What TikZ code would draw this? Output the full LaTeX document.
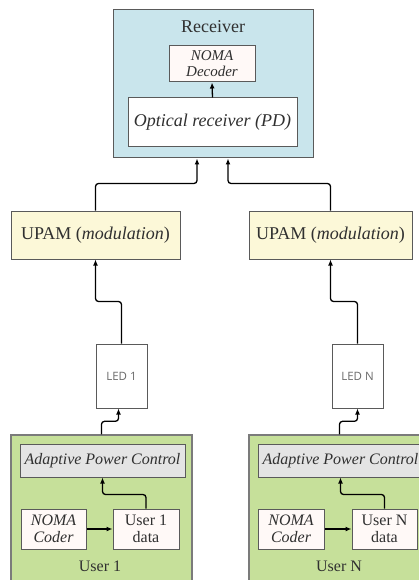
\documentclass[tikz,border=0pt]{standalone}
\usepackage{fontspec}
\setmainfont{Liberation Serif}
\newfontfamily\ledfont{Open Sans}
\usetikzlibrary{arrows.meta,calc}
\definecolor{rxblue}{HTML}{C9E5EC}
\definecolor{decfill}{HTML}{FFF9F7}
\definecolor{upamfill}{HTML}{FCF8D8}
\definecolor{userfill}{HTML}{C6E09A}
\definecolor{apcfill}{HTML}{E4E4E4}
\definecolor{boxline}{HTML}{5A5A5A}
\definecolor{txt}{HTML}{303030}
\definecolor{ledtxt}{HTML}{6A6A6A}
\begin{document}
\begin{tikzpicture}[x=1pt,y=-1pt,
  box/.style={draw=boxline, line width=1pt, inner sep=0pt, align=center, text=txt},
  bigtext/.style={font=\fontsize{18}{20}\selectfont},
  midtext/.style={font=\fontsize{16}{17}\selectfont},
  ledbox/.style={box, fill=white, minimum width=51pt, minimum height=64pt,
    text=ledtxt, font=\ledfont\fontsize{11.5}{13}\selectfont},
  userbox/.style={box, draw=boxline!80, line width=1.4pt, fill=userfill,
    minimum width=181pt, minimum height=165pt},
  conn/.style={line width=1.3pt, rounded corners=3pt, -{Latex[length=6pt,width=5pt]}},
]
\clip (0,0) rectangle (419,580);
\fill[white] (0,0) rectangle (419,580);

% receiver block
\node[box, fill=rxblue, minimum width=200pt, minimum height=148pt] (rx) at (213,84) {};
\node[text=txt, bigtext] (rxlabel) at (213,27) {Receiver};
\node[box, fill=decfill, minimum width=86pt, minimum height=36pt,
  font=\fontsize{15}{16}\selectfont\itshape] (dec) at (212,64) {NOMA\\Decoder};
\node[box, fill=white, minimum width=169pt, minimum height=49pt,
  font=\fontsize{18}{20}\selectfont\itshape] (opt) at (212.5,122.5) {Optical receiver (PD)};

% modulators
\node[box, fill=upamfill, minimum width=169pt, minimum height=48pt, bigtext] (upl) at (95.5,235) {UPAM (\textit{modulation})};
\node[box, fill=upamfill, minimum width=163pt, minimum height=48pt, bigtext] (upr) at (330.5,235) {UPAM (\textit{modulation})};

% LEDs
\node[ledbox] (led1) at (121.5,376) {LED 1};
\node[ledbox] (ledn) at (357.5,376) {LED N};

% user 1 block
\node[userbox] (g1) at (101.5,517.5) {};
\node[box, fill=apcfill, minimum width=165pt, minimum height=33pt, font=\fontsize{16}{17}\selectfont\itshape] (apc1) at (102.5,460.5) {Adaptive Power Control};
\node[box, fill=decfill, minimum width=65pt, minimum height=40pt, font=\fontsize{16}{17}\selectfont\itshape] (cod1) at (53.5,529) {NOMA\\Coder};
\node[box, fill=decfill, minimum width=66pt, minimum height=40pt, midtext] (dat1) at (146,529) {User 1\\data};
\node[text=txt, midtext] (u1) at (100,566) {User 1};

% user N block
\node[userbox] (gn) at (339.5,517.5) {};
\node[box, fill=apcfill, minimum width=165pt, minimum height=33pt, font=\fontsize{16}{17}\selectfont\itshape] (apcn) at (340.5,460.5) {Adaptive Power Control};
\node[box, fill=decfill, minimum width=66pt, minimum height=40pt, font=\fontsize{16}{17}\selectfont\itshape] (codn) at (291,529) {NOMA\\Coder};
\node[box, fill=decfill, minimum width=65pt, minimum height=40pt, midtext] (datn) at (384.5,529) {User N\\data};
\node[text=txt, midtext] (un) at (339,566) {User N};

% connectors
\draw[conn] (opt.north) -- (dec.south);
\draw[conn] (upl.north) -- ++(0,-27) -| ($(rx.south)+(-16,0)$);
\draw[conn] (upr.north) -- ++(0,-27) -| ($(rx.south)+(15,0)$);
\draw[conn] (led1.north) -- ++(0,-42) -| (upl.south);
\draw[conn] (ledn.north) -- ++(0,-42) -| (upr.south);
\draw[conn] (g1.north) -- ++(0,-13) -| ($(led1.south)+(-3,0)$);
\draw[conn] (gn.north) -- ++(0,-13) -| (ledn.south);
\draw[conn] (cod1.east) -- (dat1.west);
\draw[conn] (codn.east) -- (datn.west);
\draw[conn] (dat1.north) -- ++(0,-14) -| (apc1.south);
\draw[conn] (datn.north) -- ++(0,-14) -| (apcn.south);
\end{tikzpicture}
\end{document}
